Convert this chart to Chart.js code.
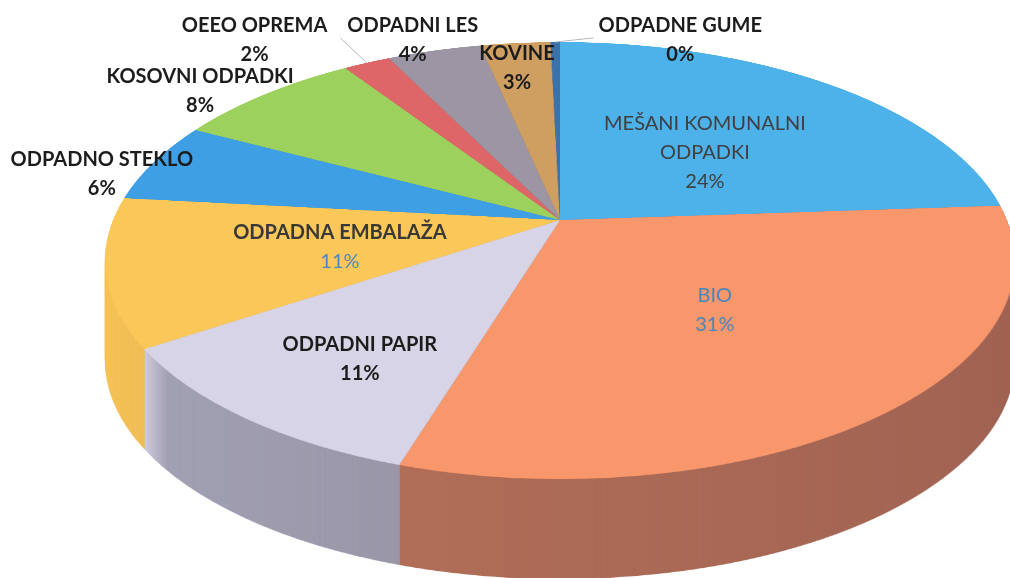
<!DOCTYPE html>
<html>
<head>
<meta charset="utf-8">
<script src="https://cdn.jsdelivr.net/npm/chart.js@4.4.1/dist/chart.umd.min.js"></script>
<style>
  html, body { margin: 0; padding: 0; background: #fff; overflow: hidden; }
  #wrap { width: 1010px; height: 578px; overflow: hidden; position: relative; }
</style>
</head>
<body>
<div id="wrap"><canvas id="pie" width="1010" height="1010"></canvas></div>
<script>
// Waste shares (%), clockwise from 12 o'clock
const categories = [
    ['MEŠANI KOMUNALNI', 'ODPADKI'],
    ['BIO'],
    ['ODPADNI PAPIR'],
    ['ODPADNA EMBALAŽA'],
    ['ODPADNO STEKLO'],
    ['KOSOVNI ODPADKI'],
    ['OEEO OPREMA'],
    ['ODPADNI LES'],
    ['KOVINE'],
    ['ODPADNE GUME']
];
const shares = [24, 31, 11, 11, 6, 8, 2, 4, 3, 0.4];
const sliceColors = ['#4db1ea', '#f8966c', '#d6d4e6', '#fbc759', '#3f9fe5', '#9dd15d', '#de6668', '#9c95a3', '#cf9f62', '#3b72aa'];

// where each label sits, in pie space: [angle in degrees, radius as share of pie radius]
const labelSpots = [
    [-44.8, 0.486], [50.9, 0.509], [124.2, 0.71], [165.4, 0.497], [192, 1.092],
    [217.2, 1.14], [231.3, 1.298], [248.9, 1.087], [262.4, 0.839], [287.5, 1.063]
];
// title weight/colour, percent weight/colour
const labelStyles = [
    ['normal', '#404040', 'normal', '#404040'],
    ['normal', '#4a86b6', 'normal', '#4a86b6'],
    ['bold', '#1c1c1c', 'bold', '#1c1c1c'],
    ['bold', '#383838', 'normal', '#4a8ac4'],
    ['bold', '#1c1c1c', 'bold', '#1c1c1c'],
    ['bold', '#1c1c1c', 'bold', '#1c1c1c'],
    ['bold', '#1c1c1c', 'bold', '#1c1c1c'],
    ['bold', '#1c1c1c', 'bold', '#1c1c1c'],
    ['bold', '#1c1c1c', 'bold', '#1c1c1c'],
    ['bold', '#1c1c1c', 'bold', '#1c1c1c']
];
const leaderSlices = [6, 9];

// perspective view of the pie (top rim, centre, front rim on screen)
const view = { cx: 560, yTop: 42, yApex: 220, yBottom: 479, halfWidth: 447, depth: 100 };
const pb = view.yApex;
const pc = (view.yBottom + view.yTop - 2 * pb) / (view.yTop - view.yBottom);
const pa = pb - view.yTop + view.yTop * pc;

function projY(v) { return (pa * v + pb) / (pc * v + 1); }
function projX(u, v) { return view.cx + u * view.halfWidth / (pc * v + 1); }
function unprojY(y) { return (y - pb) / (pa - pc * y); }

function makeCanvas(w, h) {
    const c = document.createElement('canvas');
    c.width = w; c.height = h;
    return c;
}

const total = shares.reduce((s, v) => s + v, 0);

const pie3d = {
    id: 'pie3d',
    afterDraw(chart) {
        const arc = chart.getDatasetMeta(0).data[0];
        const R = arc.outerRadius, ox = arc.x, oy = arc.y;
        const W = chart.canvas.width, H = chart.canvas.height;
        const ctx = chart.ctx;

        // flat pie from Chart.js -> tilted top face
        const src = makeCanvas(W, H);
        src.getContext('2d').drawImage(chart.canvas, 0, 0);
        const face = makeCanvas(W, H);
        const fctx = face.getContext('2d');
        const y0 = Math.floor(projY(-1)), y1 = Math.ceil(projY(1));
        for (let y = y0; y <= y1; y++) {
            const lo = Math.max(-1, unprojY(y)), hi = Math.min(1, unprojY(y + 1));
            if (hi <= lo) continue;
            const vm = (lo + hi) / 2;
            const s = view.halfWidth / (pc * vm + 1);
            fctx.drawImage(src, ox - R, oy + lo * R, 2 * R, Math.max((hi - lo) * R, 0.6), view.cx - s, y, 2 * s, 1);
        }

        // darker copy for the side wall
        const side = makeCanvas(W, H);
        const sctx = side.getContext('2d');
        sctx.drawImage(face, 0, 0);
        sctx.globalCompositeOperation = 'source-atop';
        const g = sctx.createLinearGradient(100, 0, 1010, 0);
        g.addColorStop(0, 'rgba(40,30,50,0.02)');
        g.addColorStop(0.05, 'rgba(40,30,50,0.06)');
        g.addColorStop(0.075, 'rgba(40,40,60,0.3)');
        g.addColorStop(0.3, 'rgba(40,35,50,0.34)');
        g.addColorStop(1, 'rgba(40,30,50,0.42)');
        sctx.fillStyle = g;
        sctx.fillRect(0, 0, W, H);

        ctx.save();
        ctx.setTransform(1, 0, 0, 1, 0, 0);
        ctx.clearRect(0, 0, W, H);
        for (let k = view.depth; k >= 1; k--) ctx.drawImage(side, 0, k);
        ctx.drawImage(face, 0, 0);

        // labels
        ctx.textAlign = 'center';
        ctx.textBaseline = 'middle';
        const boxes = [];
        categories.forEach((title, i) => {
            const [deg, r] = labelSpots[i];
            const t = deg * Math.PI / 180;
            const u = r * Math.cos(t), v = r * Math.sin(t);
            const x = projX(u, v), y = projY(v);
            const pct = Math.round(shares[i] / total * 100) + '%';
            const lines = title.concat([pct]);
            const st = labelStyles[i];
            const gap = 29;
            let tw = 0;
            lines.forEach((line, j) => {
                const isPct = j === lines.length - 1;
                ctx.font = (isPct ? st[2] : st[0]) + ' 20px Lato';
                ctx.fillStyle = isPct ? st[3] : st[1];
                ctx.fillText(line, x, y - (lines.length - 1) * gap / 2 + j * gap);
                if (!isPct) tw = Math.max(tw, ctx.measureText(line).width);
            });
            boxes.push({ x, y, tw });
        });

        // leader lines of the thin slices
        ctx.strokeStyle = '#b9b9b9';
        ctx.lineWidth = 1;
        leaderSlices.forEach(i => {
            const el = chart.getDatasetMeta(0).data[i];
            const mid = (el.startAngle + el.endAngle) / 2;
            const u = Math.cos(mid), v = Math.sin(mid);
            const rx = projX(u, v), ry = projY(v);
            const b = boxes[i];
            const ex = rx < b.x ? b.x - b.tw / 2 - 5 : b.x + b.tw / 2 + 13;
            ctx.beginPath();
            ctx.moveTo(rx, ry);
            ctx.lineTo(ex, b.y - 2);
            ctx.stroke();
        });
        ctx.restore();
    }
};

new Chart(document.getElementById('pie'), {
    type: 'pie',
    data: {
        labels: categories.map(c => c.join(' ')),
        datasets: [{
            data: shares,
            backgroundColor: sliceColors,
            borderWidth: 0
        }]
    },
    options: {
        responsive: false,
        devicePixelRatio: 1,
        animation: false,
        events: [],
        layout: { padding: 0 },
        plugins: {
            legend: { display: false },
            tooltip: { enabled: false }
        }
    },
    plugins: [pie3d]
});
</script>
</body>
</html>
